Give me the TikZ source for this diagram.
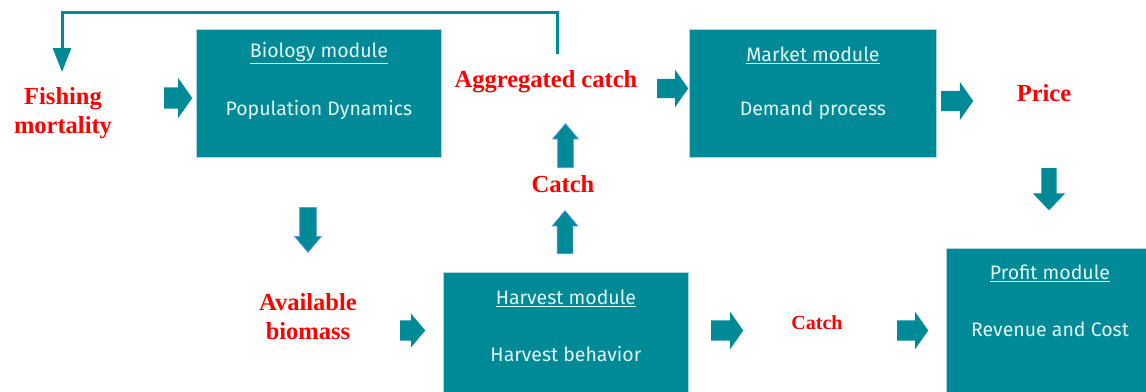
\documentclass[tikz,border=0pt]{standalone}
\usepackage{fontspec}
\setmainfont{Liberation Serif}
\newfontfamily\boxfont{Fira Sans}
\usetikzlibrary{shapes.arrows,arrows.meta}
\definecolor{tealfill}{RGB}{0,137,150}
\definecolor{tealrim}{RGB}{170,215,222}
\definecolor{boxtext}{RGB}{230,247,247}
\definecolor{labelred}{RGB}{255,0,0}
\definecolor{arrowrim}{RGB}{90,145,235}
\tikzset{
  module/.style={rectangle, fill=tealfill, draw=tealrim, line width=0.8pt,
    anchor=north west, inner sep=0pt},
  modtitle/.style={text=boxtext, font=\boxfont\fontsize{19.5}{23}\selectfont, inner sep=0pt},
  modsub/.style={text=boxtext, font=\boxfont\fontsize{19.5}{23}\selectfont, inner sep=0pt},
  varlabel/.style={text=labelred, font=\bfseries\fontsize{24.5}{29}\selectfont,
    align=center, inner sep=0pt},
  blockarrow/.style={single arrow, fill=tealfill, draw=none, inner xsep=0pt,
    minimum height=#1, anchor=tail},
  rimmed/.style={draw=arrowrim, line width=0.7pt},
  feedback/.style={draw=tealfill, line width=3pt,
    -{Triangle[width=18pt,length=24pt]}}
}
\begin{document}
\begin{tikzpicture}[x=1pt,y=-1pt]
\useasboundingbox (0,0) rectangle (1146,391);

% modules
\node[module, minimum width=245pt, minimum height=128pt] (bio) at (196,29) {};
\node[module, minimum width=247pt, minimum height=128pt] (mkt) at (689,29) {};
\node[module, minimum width=245pt, minimum height=125pt] (hrv) at (443,272) {};
\node[module, minimum width=205pt, minimum height=150pt] (prf) at (946,248) {};

\node[modtitle] (biot) at ([yshift=-24pt]bio.north) {\underline{Biology module}};
\node[modsub]   (bios) at ([yshift=-81pt]bio.north) {Population Dynamics};
\node[modtitle] (mktt) at ([yshift=-26pt]mkt.north) {\underline{Market module}};
\node[modsub]   (mkts) at ([yshift=-81pt]mkt.north) {Demand process};
\node[modtitle] (hrvt) at ([yshift=-26pt]hrv.north) {\underline{Harvest module}};
\node[modsub]   (hrvs) at ([yshift=-82pt]hrv.north) {Harvest behavior};
\node[modtitle] (prft) at (1050,273) {\underline{Profit module}};
\node[modsub]   (prfs) at (1050,329) {Revenue and Cost};

% variables passed between modules
\node[varlabel] (fm)    at (63,113)  {Fishing\\mortality};
\node[varlabel] (agg)   at (546,82)  {Aggregated catch};
\node[varlabel] (catch) at (563,184) {Catch};
\node[varlabel] (price) at (1044,93) {Price};
\node[varlabel] (avb)   at (308,317) {Available\\biomass};
\node[varlabel, font=\bfseries\fontsize{20}{24}\selectfont] (catch2) at (817,323) {Catch};

% block arrows, each placed by its tail
\node[blockarrow=28pt, inner ysep=10.5pt, single arrow head extend=9.5pt,
      single arrow tip angle=110] (a1) at (164,98) {};
\node[blockarrow=31pt, inner ysep=9.5pt, single arrow head extend=9pt,
      single arrow tip angle=110] (a2) at (657,88.5) {};
\node[blockarrow=32pt, inner ysep=10pt, single arrow head extend=9pt,
      single arrow tip angle=110] (a3) at (941,101) {};
\node[blockarrow=42pt, inner ysep=7.5pt, single arrow head extend=8.5pt,
      single arrow tip angle=88, rotate=-90] (a4) at (1049,168) {};
\node[blockarrow=45pt, inner ysep=8pt, single arrow head extend=5pt,
      single arrow tip angle=80, rotate=-90, rimmed] (a5) at (308,207) {};
\node[blockarrow=43pt, inner ysep=7.5pt, single arrow head extend=5pt,
      single arrow tip angle=80, rotate=90, rimmed] (a6) at (565,254) {};
\node[blockarrow=44pt, inner ysep=7.5pt, single arrow head extend=5pt,
      single arrow tip angle=80, rotate=90, rimmed] (a7) at (565.5,168) {};
\node[blockarrow=25pt, inner ysep=10pt, single arrow head extend=6.5pt,
      single arrow tip angle=100] (a8) at (400,330.5) {};
\node[blockarrow=32pt, inner ysep=10pt, single arrow head extend=8.5pt,
      single arrow tip angle=110] (a9) at (711,330.5) {};
\node[blockarrow=31pt, inner ysep=10pt, single arrow head extend=8.5pt,
      single arrow tip angle=110] (a10) at (897,330.5) {};

% feedback of aggregated catch to fishing mortality
\coordinate (fbsrc) at (557,54);
\coordinate (fbdst) at (62,72);
\draw[feedback] (fbsrc) -- ++(0,-42) -| (fbdst);
\end{tikzpicture}
\end{document}
